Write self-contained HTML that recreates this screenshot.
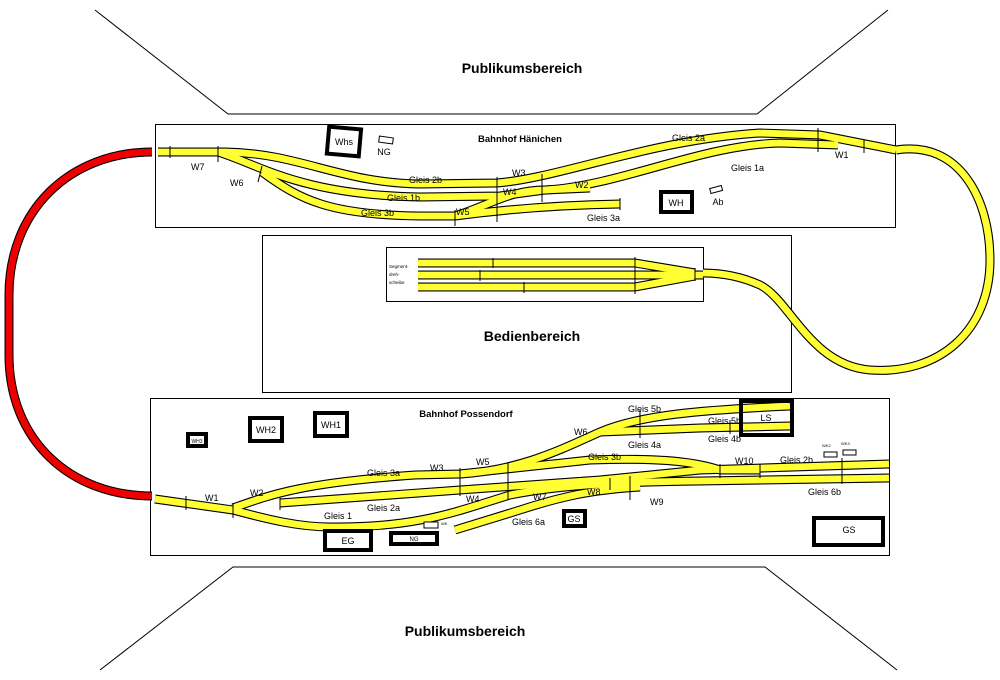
<!DOCTYPE html>
<html><head><meta charset="utf-8"><style>
html,body{margin:0;padding:0;background:#fff;width:1000px;height:680px;overflow:hidden}
svg{display:block}
text{font-family:"Liberation Sans",sans-serif;fill:#000}
.tb{fill:none;stroke:#000;stroke-width:9;stroke-linecap:butt}
.ty{fill:none;stroke:#ffff33;stroke-width:6.8;stroke-linecap:butt}
.l{font-size:9px}
.b{fill:#fff;stroke:#000;stroke-width:4}
.s{fill:#fff;stroke:#000;stroke-width:1}
.tk{stroke:#000;stroke-width:1}
</style></head><body>
<svg width="1000" height="680" viewBox="0 0 1000 680">
<g fill="none" stroke="#000" stroke-width="1">
<polyline points="95,10 228,114 757,114 888,10"/>
<polyline points="100,670 233,567 765,567 897,670"/>
<rect x="155.5" y="124.5" width="740" height="103"/>
<rect x="262.5" y="235.5" width="529" height="157"/>
<rect x="386.5" y="247.5" width="317" height="54"/>
<rect x="150.5" y="398.5" width="739" height="157"/>
</g>
<text x="522" y="73" text-anchor="middle" font-size="14" font-weight="bold">Publikumsbereich</text>
<text x="465" y="636" text-anchor="middle" font-size="14" font-weight="bold">Publikumsbereich</text>
<text x="532" y="341" text-anchor="middle" font-size="14" font-weight="bold">Bedienbereich</text>
<text x="520" y="142" text-anchor="middle" font-size="9.5" font-weight="bold">Bahnhof Hänichen</text>
<text x="466" y="417" text-anchor="middle" font-size="9.5" font-weight="bold">Bahnhof Possendorf</text>

<path d="M152,152 C70,152 9,210 9,295 L9,355 C9,440 70,496 152,496" fill="none" stroke="#000" stroke-width="9"/>
<path d="M152,152 C70,152 9,210 9,295 L9,355 C9,440 70,496 152,496" fill="none" stroke="#ee0000" stroke-width="6.8"/>

<g>
<path class="tb" d="M158,152 L225,152 C300,153 340,183 420,184 L497,183 C560,178 650,140 760,133 L820,135 L896,150"/>
<path class="tb" d="M545,190 C620,186 700,145 780,143 L838,145"/>
<path class="tb" d="M218,152 C260,165 300,195 420,197 L500,196 L545,190"/>
<path class="tb" d="M262,172 C300,200 330,215 420,216 L455,216 C500,210 560,205 620,204"/>
<path class="tb" d="M455,216 C490,205 510,190 545,190 L590,188"/>
<path class="tb" d="M896,150 C960,140 990,200 990,260 C990,330 940,375 870,370 C810,365 790,300 760,285 C740,276 720,273 703,273"/>
<path class="tb" d="M418,263 L635,263 L695,273"/>
<path class="tb" d="M418,275 L703,275"/>
<path class="tb" d="M418,287 L635,287 L695,276"/>
<path class="tb" d="M155,499 L233,510 C270,520 300,527 330,527 C420,528 460,510 510,495 C560,485 620,482 700,481 L889,478"/>
<path class="tb" d="M280,503 L460,490 L600,480 L700,470 L889,464"/>
<path class="tb" d="M233,508 C270,495 300,483 415,475 L460,474 L590,460 C650,458 690,460 720,470 L760,470"/>
<path class="tb" d="M460,474 C520,470 560,450 600,432 C640,415 700,410 790,406"/>
<path class="tb" d="M600,432 L700,428 L790,426"/>
<path class="tb" d="M455,530 L520,510 C560,497 590,490 640,487"/>
</g>
<g>
<path class="ty" d="M158,152 L225,152 C300,153 340,183 420,184 L497,183 C560,178 650,140 760,133 L820,135 L896,150"/>
<path class="ty" d="M545,190 C620,186 700,145 780,143 L838,145"/>
<path class="ty" d="M218,152 C260,165 300,195 420,197 L500,196 L545,190"/>
<path class="ty" d="M262,172 C300,200 330,215 420,216 L455,216 C500,210 560,205 620,204"/>
<path class="ty" d="M455,216 C490,205 510,190 545,190 L590,188"/>
<path class="ty" d="M896,150 C960,140 990,200 990,260 C990,330 940,375 870,370 C810,365 790,300 760,285 C740,276 720,273 703,273"/>
<path class="ty" d="M418,263 L635,263 L695,273"/>
<path class="ty" d="M418,275 L703,275"/>
<path class="ty" d="M418,287 L635,287 L695,276"/>
<path class="ty" d="M155,499 L233,510 C270,520 300,527 330,527 C420,528 460,510 510,495 C560,485 620,482 700,481 L889,478"/>
<path class="ty" d="M280,503 L460,490 L600,480 L700,470 L889,464"/>
<path class="ty" d="M233,508 C270,495 300,483 415,475 L460,474 L590,460 C650,458 690,460 720,470 L760,470"/>
<path class="ty" d="M460,474 C520,470 560,450 600,432 C640,415 700,410 790,406"/>
<path class="ty" d="M600,432 L700,428 L790,426"/>
<path class="ty" d="M455,530 L520,510 C560,497 590,490 640,487"/>
</g>
<g class="tk">
<line x1="170" y1="146" x2="170" y2="158"/><line x1="218" y1="146" x2="218" y2="162"/><line x1="262" y1="166" x2="258" y2="182"/>
<line x1="497" y1="177" x2="497" y2="222"/><line x1="542" y1="174" x2="542" y2="202"/><line x1="455" y1="210" x2="455" y2="226"/>
<line x1="818" y1="128" x2="818" y2="152"/><line x1="864" y1="140" x2="864" y2="153"/><line x1="620" y1="198" x2="620" y2="210"/>
<line x1="493" y1="258" x2="493" y2="268"/><line x1="480" y1="270" x2="480" y2="281"/><line x1="524" y1="282" x2="524" y2="293"/>
<line x1="635" y1="257" x2="635" y2="294"/><line x1="695" y1="268" x2="695" y2="281"/>
<line x1="186" y1="496" x2="186" y2="510"/><line x1="233" y1="503" x2="233" y2="518"/><line x1="280" y1="497" x2="280" y2="510"/>
<line x1="460" y1="468" x2="460" y2="496"/><line x1="508" y1="462" x2="508" y2="500"/><line x1="630" y1="476" x2="630" y2="500"/>
<line x1="720" y1="464" x2="720" y2="478"/><line x1="760" y1="464" x2="760" y2="478"/><line x1="842" y1="458" x2="842" y2="484"/>
<line x1="640" y1="410" x2="640" y2="438"/><line x1="730" y1="420" x2="730" y2="434"/><line x1="610" y1="478" x2="610" y2="490"/>
</g>
<rect class="b" x="328" y="128" width="32" height="27" transform="rotate(5 344 141)"/>
<text x="344" y="145" class="l" text-anchor="middle" font-size="8">Whs</text>
<rect class="s" x="379" y="137" width="14" height="6" transform="rotate(8 386 140)"/>
<text x="384" y="155" class="l" text-anchor="middle" font-size="8">NG</text>
<rect class="b" x="661" y="192" width="31" height="20"/>
<text x="676" y="206" class="l" text-anchor="middle" font-size="8">WH</text>
<rect class="s" x="710" y="187" width="12" height="5" transform="rotate(-15 716 189)"/>
<text x="718" y="205" class="l" text-anchor="middle" font-size="8">Ab</text>
<rect class="b" x="188" y="434" width="18" height="12"/>
<text x="197" y="443" text-anchor="middle" font-size="5">WH3</text>
<rect class="b" x="250" y="418" width="32" height="23"/>
<text x="266" y="433" class="l" text-anchor="middle" font-size="8">WH2</text>
<rect class="b" x="315" y="413" width="32" height="23"/>
<text x="331" y="428" class="l" text-anchor="middle" font-size="8">WH1</text>
<rect class="b" x="325" y="531" width="46" height="19"/>
<text x="348" y="544" class="l" text-anchor="middle" font-size="8">EG</text>
<rect class="b" x="391" y="533" width="46" height="11"/>
<text x="414" y="541" text-anchor="middle" font-size="6">NG</text>
<rect class="s" x="424" y="522" width="14" height="6"/>
<text x="441" y="525" font-size="4">WK</text>
<rect class="b" x="564" y="511" width="21" height="15"/>
<text x="574" y="522" class="l" text-anchor="middle" font-size="8">GS</text>
<rect class="b" x="741" y="401" width="51" height="34" style="fill:none"/>
<text x="766" y="421" class="l" text-anchor="middle" font-size="8">LS</text>
<rect class="b" x="814" y="518" width="69" height="27"/>
<text x="849" y="533" class="l" text-anchor="middle" font-size="8">GS</text>
<rect class="s" x="824" y="452" width="13" height="5"/><rect class="s" x="843" y="450" width="13" height="5"/>
<text x="822" y="447" font-size="4">WK2</text><text x="841" y="445" font-size="4">WK3</text>
<text x="389" y="268" font-size="4.5">Segment-</text><text x="389" y="276" font-size="4.5">dreh-</text><text x="389" y="284" font-size="4.5">scheibe</text>
<g class="l">
<text x="191" y="170">W7</text><text x="230" y="186">W6</text>
<text x="409" y="183">Gleis 2b</text><text x="387" y="201">Gleis 1b</text><text x="361" y="216">Gleis 3b</text>
<text x="512" y="176">W3</text><text x="503" y="195">W4</text><text x="575" y="188">W2</text><text x="456" y="215">W5</text>
<text x="587" y="221">Gleis 3a</text><text x="672" y="141">Gleis 2a</text><text x="731" y="171">Gleis 1a</text><text x="835" y="158">W1</text>
<text x="205" y="501">W1</text><text x="250" y="496">W2</text><text x="324" y="519">Gleis 1</text><text x="367" y="511">Gleis 2a</text>
<text x="367" y="476">Gleis 3a</text><text x="430" y="471">W3</text><text x="476" y="465">W5</text><text x="466" y="502">W4</text>
<text x="533" y="500">W7</text><text x="587" y="495">W8</text><text x="650" y="505">W9</text><text x="512" y="525">Gleis 6a</text>
<text x="574" y="435">W6</text><text x="628" y="412">Gleis 5b</text><text x="708" y="424">Gleis 5b</text><text x="628" y="448">Gleis 4a</text>
<text x="708" y="442">Gleis 4b</text><text x="588" y="460">Gleis 3b</text><text x="735" y="464">W10</text><text x="780" y="463">Gleis 2b</text>
<text x="808" y="495">Gleis 6b</text>
</g>
</svg>
</body></html>
